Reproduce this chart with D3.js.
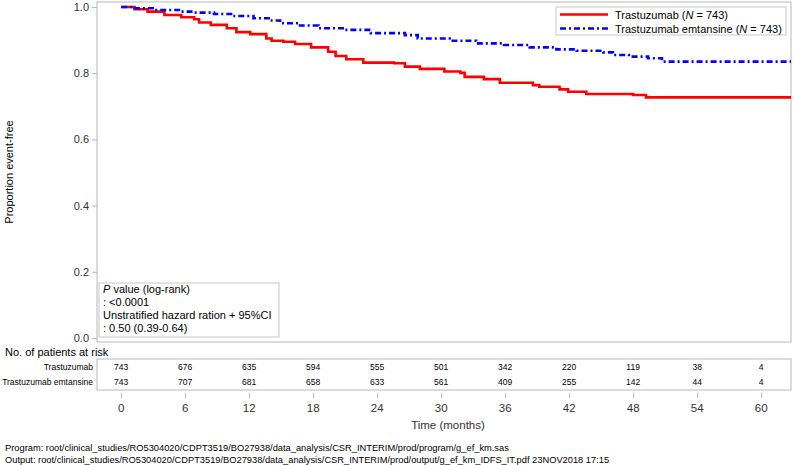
<!DOCTYPE html>
<html><head><meta charset="utf-8">
<script src="https://cdn.jsdelivr.net/npm/d3@7"></script>
<style>
body{margin:0;background:#fff;}
text{font-family:"Liberation Sans",Arial,sans-serif;}
</style></head>
<body><svg id="c" width="793" height="465"></svg>
<script>
// Data
const seriesNames = ["Trastuzumab", "Trastuzumab emtansine"];
const trastuzumabTime = [0,1.26,2.47,4.05,5.63,6.84,7.3,8.4,9.9,10.8,12.1,13.6,14.1,15.2,16.3,17.8,19.4,20.1,21.1,22.7,25.6,26.6,28.0,30.3,31.8,32.2,34.0,35.5,38.6,39.2,41.1,41.9,43.6,48.0,49.2,62.8];
const trastuzumabSurv = [1.0,0.993,0.986,0.976,0.969,0.963,0.953,0.946,0.936,0.924,0.918,0.905,0.898,0.895,0.888,0.878,0.865,0.852,0.842,0.832,0.830,0.820,0.813,0.805,0.801,0.789,0.782,0.771,0.764,0.759,0.751,0.744,0.737,0.734,0.727,0.727];
const kadcylaTime = [0,1.26,3.1,5.6,6.8,8.7,10.3,12.4,14.0,14.9,16.6,18.5,21.0,23.4,26.6,27.8,30.8,33.3,35.9,38.3,40.8,42.7,45.2,46.1,47.6,49.4,50.7,62.8];
const kadcylaSurv = [1.0,0.996,0.991,0.986,0.983,0.979,0.973,0.966,0.959,0.951,0.944,0.936,0.931,0.921,0.915,0.905,0.898,0.890,0.885,0.878,0.872,0.868,0.863,0.855,0.850,0.845,0.835,0.835];
const xTicks = [0,6,12,18,24,30,36,42,48,54,60];
const yTicks = [0,0.2,0.4,0.6,0.8,1.0];
const riskTrastuzumab = [743,676,635,594,555,501,342,220,119,38,4];
const riskKadcyla = [743,707,681,658,633,561,409,255,142,44,4];
const annotationLines = ["value (log-rank)", ": <0.0001", "Unstratified hazard ration + 95%CI", ": 0.50 (0.39-0.64)"];

const svg = d3.select("#c");
const L = 97, R = 791, T = 2, B = 342;
const x = d3.scaleLinear().domain([-2.27, 62.8]).range([L, R]);
const y = d3.scaleLinear().domain([0, 1]).range([338, 7]);
const grey = "#b8b8b8";

// plot frame
svg.append("rect").attr("x", L).attr("y", T).attr("width", R - L).attr("height", B - T)
  .attr("fill", "none").attr("stroke", grey).attr("stroke-width", 1);

// y axis
const yAxis = svg.append("g").attr("transform", `translate(${L},0)`)
  .call(d3.axisLeft(y).tickValues(yTicks).tickFormat(d3.format(".1f")).tickSize(5).tickPadding(3));
yAxis.select(".domain").remove();
yAxis.selectAll("line").attr("stroke", grey);
yAxis.selectAll("text").attr("font-size", 11).attr("fill", "#333").style("font-family", "Liberation Sans, Arial, sans-serif");

svg.append("text").attr("transform", "translate(13,172) rotate(-90)").attr("text-anchor", "middle")
  .attr("font-size", 11).attr("fill", "#000").text("Proportion event-free");

// curves
const line = d3.line().x(d => x(d[0])).y(d => y(d[1])).curve(d3.curveStepAfter);
const redData = trastuzumabTime.map((t, i) => [t, trastuzumabSurv[i]]);
const blueData = kadcylaTime.map((t, i) => [t, kadcylaSurv[i]]);
svg.append("path").datum(redData).attr("d", line).attr("fill", "none")
  .attr("stroke", "#ff0000").attr("stroke-width", 2.6);
svg.append("path").datum(blueData).attr("d", line).attr("fill", "none")
  .attr("stroke", "#0000ff").attr("stroke-width", 2.6).attr("stroke-dasharray", "6,3,2,3");

// legend
const lg = svg.append("g");
lg.append("rect").attr("x", 556).attr("y", 7).attr("width", 230).attr("height", 28)
  .attr("fill", "#fff").attr("stroke", "#c8c8c8");
lg.append("line").attr("x1", 560).attr("x2", 608).attr("y1", 14.5).attr("y2", 14.5)
  .attr("stroke", "#ff0000").attr("stroke-width", 2.6);
lg.append("line").attr("x1", 560).attr("x2", 608).attr("y1", 28.5).attr("y2", 28.5)
  .attr("stroke", "#0000ff").attr("stroke-width", 2.6).attr("stroke-dasharray", "6,3,2,3");
[0, 1].forEach(i => {
  const t = lg.append("text").attr("x", 615).attr("y", 18.5 + i * 14).attr("font-size", 11).attr("fill", "#000");
  t.append("tspan").text(seriesNames[i] + " (");
  t.append("tspan").attr("font-style", "italic").text("N");
  t.append("tspan").text(" = " + (i === 0 ? riskTrastuzumab[0] : riskKadcyla[0]) + ")");
});

// annotation box
const ab = svg.append("g");
ab.append("rect").attr("x", 99).attr("y", 283).attr("width", 180).attr("height", 54)
  .attr("fill", "#fff").attr("stroke", "#c8c8c8");
annotationLines.forEach((s, i) => {
  const t = ab.append("text").attr("x", 103).attr("y", 293 + i * 13).attr("font-size", 11).attr("fill", "#000");
  if (i === 0) { t.append("tspan").attr("font-style", "italic").text("P"); t.append("tspan").text(" " + s); }
  else t.text(s);
});

// risk table
svg.append("text").attr("x", 5).attr("y", 356).attr("font-size", 11).attr("fill", "#000").text("No. of patients at risk");
svg.append("rect").attr("x", L).attr("y", 359).attr("width", R - L).attr("height", 31)
  .attr("fill", "none").attr("stroke", grey);
const rows = [riskTrastuzumab, riskKadcyla];
rows.forEach((r, j) => {
  svg.append("text").attr("x", 93).attr("y", 370 + j * 15).attr("text-anchor", "end")
    .attr("font-size", 8.5).attr("fill", "#000").text(seriesNames[j]);
  svg.append("g").selectAll("text").data(r).join("text")
    .attr("x", (d, i) => x(xTicks[i])).attr("y", 370 + j * 15).attr("text-anchor", "middle")
    .attr("font-size", 8.5).attr("fill", "#000").text(d => d);
});

// x axis
const xAxis = svg.append("g").attr("transform", "translate(0,398)")
  .call(d3.axisTop(x).tickValues(xTicks).tickSize(5).tickFormat(""));
xAxis.select(".domain").remove();
xAxis.selectAll("line").attr("stroke", grey);
svg.append("g").selectAll("text").data(xTicks).join("text")
  .attr("x", d => x(d)).attr("y", 412).attr("text-anchor", "middle").attr("font-size", 11.5)
  .attr("fill", "#333").text(d => d);
svg.append("text").attr("x", 448).attr("y", 429).attr("text-anchor", "middle").attr("font-size", 11.5)
  .attr("fill", "#333").text("Time (months)");

// footnotes
svg.append("text").attr("x", 5).attr("y", 451).attr("font-size", 9.3).attr("fill", "#000")
  .text("Program: root/clinical_studies/RO5304020/CDPT3519/BO27938/data_analysis/CSR_INTERIM/prod/program/g_ef_km.sas");
svg.append("text").attr("x", 5).attr("y", 463).attr("font-size", 9.3).attr("fill", "#000")
  .text("Output: root/clinical_studies/RO5304020/CDPT3519/BO27938/data_analysis/CSR_INTERIM/prod/output/g_ef_km_IDFS_IT.pdf 23NOV2018 17:15");
</script></body></html>
